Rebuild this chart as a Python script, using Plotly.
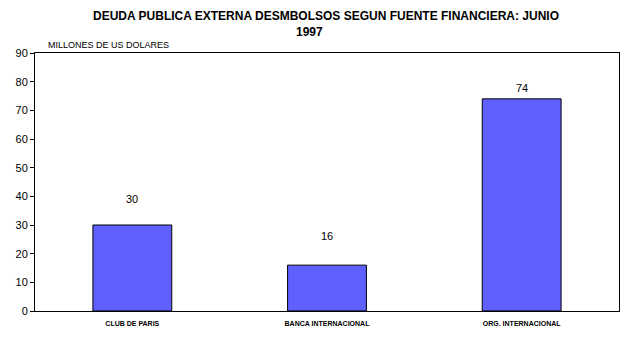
import plotly.graph_objects as go

categories = ["CLUB DE PARIS", "BANCA INTERNACIONAL", "ORG. INTERNACIONAL"]
values = [30, 16, 74]
label_shift = [26, 29, 11]
title_line1 = "DEUDA PUBLICA EXTERNA DESMBOLSOS SEGUN FUENTE FINANCIERA: JUNIO"
title_line2 = "1997"
y_title = "MILLONES DE US DOLARES"

W, H = 638, 337
L, R, T, B = 35, 19, 53, 26
pw, ph = W - L - R, H - T - B

def px(xp):
    return (xp - L) / pw

def py(yp):
    return (H - B - yp) / ph

fig = go.Figure()
fig.add_trace(go.Bar(
    x=categories, y=values,
    marker=dict(color="#6060FF", line=dict(color="black", width=1)),
    hoverinfo="skip",
))

for c, v, s in zip(categories, values, label_shift):
    fig.add_annotation(x=c, y=v, text=str(v), showarrow=False, yshift=s,
                       font=dict(family="Arial", size=11, color="black"))

fig.add_annotation(x=px(326), y=py(16), xref="paper", yref="paper",
                   xanchor="center", yanchor="middle",
                   text="<b>" + title_line1 + "</b>", showarrow=False,
                   font=dict(family="Arial", size=12, color="black"))
fig.add_annotation(x=px(309), y=py(32), xref="paper", yref="paper",
                   xanchor="center", yanchor="middle",
                   text="<b>" + title_line2 + "</b>", showarrow=False,
                   font=dict(family="Arial", size=12, color="black"))
fig.add_annotation(x=px(46), y=py(45), xref="paper", yref="paper",
                   xanchor="left", yanchor="middle",
                   text=y_title, showarrow=False,
                   font=dict(family="Arial", size=9, color="black"))

fig.update_layout(
    width=W, height=H,
    margin=dict(l=L, r=R, t=T, b=B, pad=0),
    paper_bgcolor="white", plot_bgcolor="white",
    bargap=0.595,
    showlegend=False,
    xaxis=dict(showline=True, linecolor="black", linewidth=1, mirror=True,
               ticks="", showgrid=False, ticklabelstandoff=6, automargin=False,
               tickfont=dict(family="Arial", size=7, color="black", weight="bold")),
    yaxis=dict(range=[0, 90], dtick=10, showline=True, linecolor="black", linewidth=1,
               mirror=True, ticks="outside", ticklen=4, tickcolor="black",
               showgrid=False, zeroline=False, automargin=False,
               tickfont=dict(family="Arial", size=11, color="black")),
)

fig.write_html("out.html")
